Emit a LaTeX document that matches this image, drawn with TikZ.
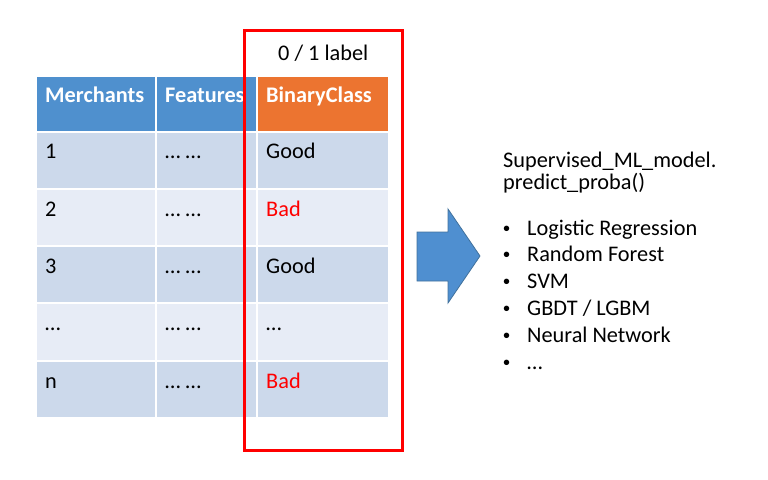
\documentclass[tikz,border=0pt]{standalone}
\usepackage{fontspec}
\setmainfont{Carlito}
\newfontfamily\bulletfont{Liberation Sans}
\definecolor{hdrblue}{HTML}{4F90CE}
\definecolor{hdrorange}{HTML}{EC7430}
\definecolor{rowdark}{HTML}{CCD9EB}
\definecolor{rowlight}{HTML}{E7ECF6}
\definecolor{arrowfill}{HTML}{4F8FD0}
\definecolor{arrowline}{HTML}{41719C}
\begin{document}
\begin{tikzpicture}[x=1pt,y=-1pt,
  txt/.style={anchor=base west,inner sep=0pt,font=\fontsize{22.3}{27}\selectfont},
  hdr/.style={txt,text=white,font=\fontsize{22.3}{27}\selectfont\bfseries},
  bul/.style={anchor=base west,inner sep=0pt,font=\bulletfont\fontsize{20}{24}\selectfont}]
\useasboundingbox (0,0) rectangle (768,479);
% header cells
\fill[hdrblue] (37,77) rectangle (155,131);
\fill[hdrblue] (157,77) rectangle (256,131);
\fill[hdrorange] (258,77) rectangle (388,131);
% rows
\foreach \t/\b/\c in {133/188/rowdark,190/245/rowlight,247/302/rowdark,304/360/rowlight,362/417/rowdark}{
  \fill[\c] (37,\t) rectangle (155,\b);
  \fill[\c] (157,\t) rectangle (256,\b);
  \fill[\c] (258,\t) rectangle (388,\b);
}
% header text
\node[hdr] (h1) at (45,102.5) {Merchants};
\node[hdr] (h2) at (165,102.5) {Features};
\node[hdr] (h3) at (266,102.5) {BinaryClass};
% row texts
\node[txt] (m1) at (45,158.5) {1};
\node[txt] (f1) at (165,158.5) {… …};
\node[txt] (c1) at (266,158.5) {Good};
\node[txt] (m2) at (45,216) {2};
\node[txt] (f2) at (165,216) {… …};
\node[txt,text=red] (c2) at (266,216) {Bad};
\node[txt] (m3) at (45,273) {3};
\node[txt] (f3) at (165,273) {… …};
\node[txt] (c3) at (266,273) {Good};
\node[txt] (m4) at (45,330) {…};
\node[txt] (f4) at (165,330) {… …};
\node[txt] (c4) at (266,330) {…};
\node[txt] (m5) at (45,388) {n};
\node[txt] (f5) at (165,388) {… …};
\node[txt,text=red] (c5) at (266,388) {Bad};
% red box
\draw[red,line width=3pt] (244,30) rectangle (402,450);
\node[txt] (lbl) at (278,60) {0 / 1 label};
% arrow
\draw[arrowline,fill=arrowfill,line width=0.8pt,line join=miter]
  (417,232) -- (448,232) -- (448,209) -- (480,256) -- (448,303) -- (448,281) -- (417,281) -- cycle;
% right text
\node[txt] (t1) at (503,167) {Supervised\_ML\_model.};
\node[txt] (t2) at (503,189) {predict\_proba()};
\foreach \y/\s/\n in {235/{Logistic Regression}/b1,261.8/{Random Forest}/b2,288.6/{SVM}/b3,315.4/{GBDT / LGBM}/b4,342.2/{Neural Network}/b5,369/{…}/b6}{
  \node[bul] (\n dot) at (503,\y) {•};
  \node[txt] (\n) at (527,\y) {\s};
}
\end{tikzpicture}
\end{document}
